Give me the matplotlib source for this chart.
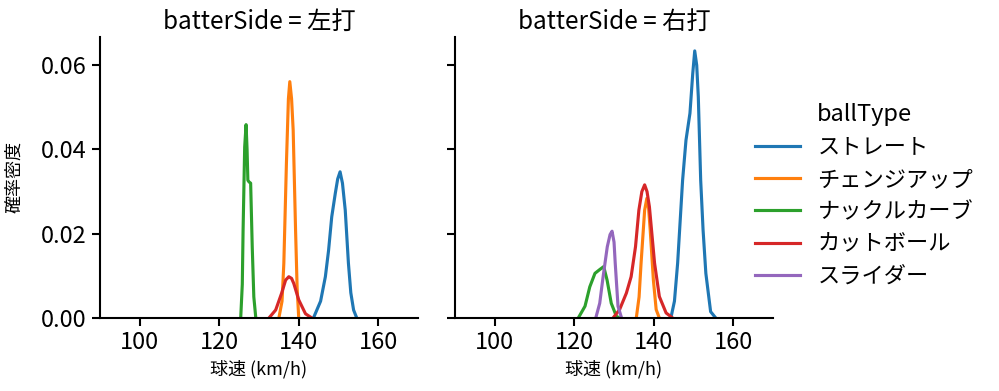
import numpy as np
import matplotlib.pyplot as plt

plt.rcParams['font.family'] = ['Noto Sans CJK JP', 'DejaVu Sans']

# ball types and colours (seaborn tab10 order)
ball_types = ["ストレート", "チェンジアップ", "ナックルカーブ", "カットボール", "スライダー"]
colors = ["#1f77b4", "#ff7f0e", "#2ca02c", "#d62728", "#9467bd"]

# curves: 左打
left_straight_x = [143.7, 145.5, 146.7, 147.5, 148.3, 149.2, 149.8, 150.4, 151.0, 151.7, 152.5, 153.1, 153.8, 154.6]
left_straight_y = [0.0, 0.004, 0.0098, 0.016, 0.024, 0.0296, 0.033, 0.0347, 0.032, 0.0256, 0.013, 0.006, 0.0019, 0.0]
left_change_x = [135.0, 135.8, 136.25, 136.9, 137.4, 137.75, 138.2, 138.6, 139.2, 139.6, 140.0]
left_change_y = [0.0, 0.004, 0.013, 0.0367, 0.052, 0.0561, 0.052, 0.0446, 0.0209, 0.007, 0.0]
left_knuckle_x = [125.4, 125.8, 126.0, 126.4, 126.75, 127.0, 127.2, 127.5, 127.9, 128.3, 128.7, 129.2]
left_knuckle_y = [0.0, 0.008, 0.0209, 0.0406, 0.0459, 0.040, 0.0327, 0.0323, 0.032, 0.0169, 0.005, 0.0]
left_cut_x = [132.5, 134.2, 135.7, 136.7, 137.5, 138.2, 138.75, 140.0, 141.7, 143.3]
left_cut_y = [0.0, 0.0019, 0.0059, 0.009, 0.0098, 0.0094, 0.0082, 0.0043, 0.001, 0.0]

# curves: 右打
right_straight_x = [144.3, 145.2, 146.0, 147.25, 148.1, 149.1, 149.8, 150.3, 150.8, 151.2, 151.8, 152.4, 153.1, 154.3, 155.6]
right_straight_y = [0.0, 0.004, 0.013, 0.0327, 0.0422, 0.0486, 0.058, 0.0634, 0.060, 0.0525, 0.0327, 0.0209, 0.0106, 0.0015, 0.0]
right_change_x = [135.6, 136.3, 136.8, 137.7, 138.25, 138.7, 139.1, 139.9, 140.6, 141.4]
right_change_y = [0.0, 0.005, 0.013, 0.0256, 0.0284, 0.026, 0.0209, 0.009, 0.002, 0.0]
right_knuckle_x = [121.0, 122.7, 123.9, 125.2, 126.4, 127.4, 128.25, 129.3, 130.6, 131.4]
right_knuckle_y = [0.0, 0.0028, 0.0074, 0.0106, 0.0115, 0.0122, 0.009, 0.0035, 0.0004, 0.0]
right_cut_x = [129.75, 131.4, 133.1, 134.3, 135.4, 136.25, 137.0, 137.7, 138.3, 138.9, 140.2, 141.4, 143.1, 144.75]
right_cut_y = [0.0, 0.002, 0.0059, 0.0098, 0.0169, 0.0256, 0.030, 0.0316, 0.030, 0.0264, 0.013, 0.0051, 0.0012, 0.0]
right_slider_x = [125.4, 126.4, 127.25, 128.3, 129.0, 129.5, 130.0, 130.3, 131.0, 131.9]
right_slider_y = [0.0, 0.0035, 0.0098, 0.0169, 0.0198, 0.0206, 0.018, 0.013, 0.0028, 0.0]

left_curves = {
    "ストレート": (left_straight_x, left_straight_y),
    "チェンジアップ": (left_change_x, left_change_y),
    "ナックルカーブ": (left_knuckle_x, left_knuckle_y),
    "カットボール": (left_cut_x, left_cut_y),
}
right_curves = {
    "ストレート": (right_straight_x, right_straight_y),
    "チェンジアップ": (right_change_x, right_change_y),
    "ナックルカーブ": (right_knuckle_x, right_knuckle_y),
    "カットボール": (right_cut_x, right_cut_y),
    "スライダー": (right_slider_x, right_slider_y),
}
panels = [("左打", left_curves), ("右打", right_curves)]

fig = plt.figure(figsize=(9.99, 3.91), dpi=100)
ax1 = fig.add_axes([0.1001, 0.1867, 0.3183, 0.7187])
ax2 = fig.add_axes([0.4555, 0.1867, 0.3183, 0.7187], sharey=ax1)

handles = {}
for ax, (side, curves) in zip([ax1, ax2], panels):
    for name, (xs, ys) in curves.items():
        c = colors[ball_types.index(name)]
        line, = ax.plot(xs, ys, color=c, lw=2.25)
        handles[name] = line
    ax.set_xlim(90, 170)
    ax.set_ylim(0, 0.0667)
    ax.set_xticks([100, 120, 140, 160])
    ax.set_yticks([0.0, 0.02, 0.04, 0.06])
    ax.set_title("batterSide = " + side, fontsize=17.5)
    ax.set_xlabel("球速 (km/h)", fontsize=13)
    ax.tick_params(labelsize=17, width=1.5, length=6)
    for s in ["top", "right"]:
        ax.spines[s].set_visible(False)
    for s in ["left", "bottom"]:
        ax.spines[s].set_linewidth(1.5)

ax1.set_ylabel("確率密度", fontsize=13)
ax1.yaxis.set_label_coords(-0.242, 0.5)
ax1.yaxis.set_major_formatter(plt.FormatStrFormatter('%.2f'))
ax2.tick_params(labelleft=False)

fig.legend([handles[n] for n in ball_types], ball_types, title="ballType",
           loc="center left", bbox_to_anchor=(0.736, 0.50), frameon=False,
           fontsize=16, title_fontsize=17, handlelength=2.0, labelspacing=0.42)

fig.savefig("out.png", dpi=100)
